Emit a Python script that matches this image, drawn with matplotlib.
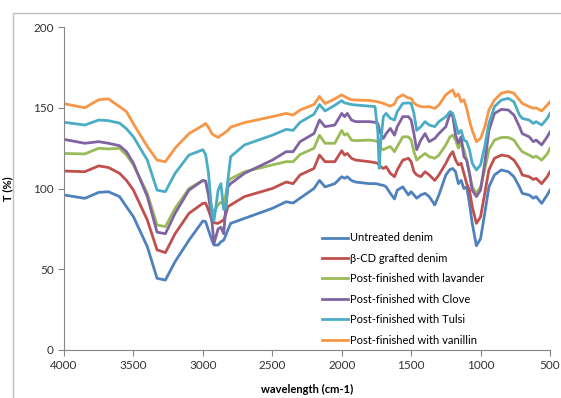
import matplotlib
matplotlib.use("Agg")
import matplotlib.pyplot as plt
from matplotlib.patches import Rectangle

plt.rcParams['font.family'] = ['Lato', 'DejaVu Sans']

# --- data (wavenumber, transmittance %) ---
wavenumber = [4000, 3850, 3750, 3680, 3600, 3550, 3500, 3400, 3330, 3270, 3200, 3100,
              3000, 2980, 2960, 2935, 2920, 2890, 2870, 2850, 2835, 2820, 2800, 2700,
              2500, 2400, 2350, 2300, 2200, 2160, 2120, 2050, 2000, 1980, 1960, 1930,
              1900, 1800, 1760, 1740, 1730, 1720, 1700, 1680, 1650, 1620, 1600, 1560,
              1520, 1500, 1480, 1460, 1430, 1400, 1370, 1330, 1300, 1250, 1220, 1200,
              1180, 1160, 1140, 1120, 1100, 1080, 1060, 1030, 1000, 970, 940, 900,
              850, 800, 760, 720, 700, 650, 620, 600, 560, 520, 500]

untreated = [96, 93.9, 97.6, 98, 95, 88.7, 82.5, 64, 44.4, 43.3, 54.7, 68,
             79.9, 79.5, 74.3, 68, 65, 65, 67, 68, 71, 74.3, 78.4, 81.5,
             87.7, 91.8, 91, 94, 100, 105, 101, 103, 107.3, 106.3, 107.3, 105,
             104, 103, 103, 102.8, 102.5, 102.2, 102, 101, 97, 93.5, 99, 101,
             96, 98, 96, 94, 96, 97, 95, 89.8, 96, 108.4, 111.8, 112.4,
             110.4, 103, 105, 100, 101, 90.8, 78.4, 64.5, 69, 84.6, 101, 108.4,
             111.5, 110.4, 107.3, 101, 97, 96, 94, 95, 90.8, 96, 99]

bcd_grafted = [110.8, 110.4, 114, 113, 109.4, 105, 99, 80.5, 62, 60.3, 72, 84.6,
               90.8, 91, 86.7, 80.5, 78.8, 78.4, 79.5, 80.5, 84, 88.7, 89.8, 95,
               100, 104, 103, 108.4, 112.4, 120.7, 116.6, 116.6, 123.4, 120.7, 121.7, 118.7,
               117.6, 116.6, 116, 115.6, 114.5, 113.5, 112.4, 113.5, 109.4, 107.3, 111.5, 117.6,
               118.7, 116.6, 110.4, 108.4, 107.3, 110.4, 108.4, 105, 108.4, 115.6, 120.7, 122.8,
               117.6, 114.6, 115.6, 109.4, 103, 99, 88.7, 78.4, 82.5, 97, 111.5, 118.7,
               120.7, 120, 117.6, 112.4, 108.4, 107.3, 105.6, 106.3, 103, 107.3, 110.4]

lavander = [121.7, 121.4, 124.9, 124.5, 124.9, 120.7, 114.6, 97, 77.4, 76.4, 87.7, 100,
            105, 104.5, 97, 88, 85, 90, 91.5, 90, 96, 104, 106, 110.4,
            114.6, 116.6, 116.6, 121, 124.9, 133, 128, 128, 136, 133, 134, 130,
            129.6, 130, 129.5, 129, 127, 125, 124, 124.9, 126, 122.8, 126, 132,
            132, 130, 122.8, 117.6, 119.7, 121.7, 119.7, 118.7, 120.7, 127, 132, 133,
            130, 125, 128, 124, 117.6, 109.4, 101, 97, 101, 111.5, 124, 130,
            131.6, 131.6, 130, 124.9, 122.8, 120.7, 119.2, 120, 117.6, 121.4, 124.9]

clove = [130.4, 128, 129, 128, 126.5, 122.8, 115.6, 95, 73, 72, 84.6, 99,
         105, 104.5, 96, 80, 66, 75, 76, 72, 88, 101, 103, 109.4,
         117.6, 122.8, 122.8, 129, 134, 142.4, 138.3, 139.3, 146.5, 144.5, 146.5, 142.4,
         141.4, 141.4, 141, 140.3, 137, 134, 131, 134, 137.2, 133, 138.3, 144.5,
         144.5, 142.4, 134, 124, 130, 134, 129, 131, 134, 138.3, 146.5, 144.5,
         133, 128, 132, 119.7, 117.6, 109.4, 99, 95, 99, 115.6, 136, 146.5,
         149, 148.6, 145.5, 138.3, 134, 132, 129, 130, 127, 132, 135]

tulsi = [141, 139.3, 142.4, 142, 140.5, 137, 132, 117.6, 99, 98, 109.4, 120.7,
         124, 121, 110, 85, 80, 99, 103, 87, 88, 105, 119.7, 127,
         133, 136.6, 136, 141, 146, 152, 148, 151.5, 154.4, 153, 152.7, 152,
         151.7, 151, 150.7, 135, 112.5, 128, 144.5, 146.5, 143.4, 142.4, 147.6, 152.7,
         153, 152.7, 146.5, 136, 138.3, 141.4, 139.3, 138.3, 141.4, 144.5, 147.6, 146.5,
         140.3, 134, 136, 130, 129, 124, 115.6, 111.5, 114.6, 126, 140.3, 150.7,
         154.8, 155.8, 153.7, 145.5, 143.4, 142.4, 140.3, 141.4, 139.3, 143.4, 146.5]

vanillin = [152.5, 150, 155, 155.5, 150.7, 147.6, 140, 126, 117.6, 116.6, 125, 134,
            139, 140.3, 138, 134, 133, 131.6, 133, 134, 135, 136, 138, 140.8,
            144.5, 146.5, 145.5, 148.6, 152, 157, 152.5, 155.5, 158, 157, 156, 155,
            154.8, 154.5, 154, 153.7, 153.5, 153.2, 152.7, 152, 151, 152.3, 156, 158,
            156, 155.8, 153, 151.7, 150.7, 150.5, 150.7, 149.6, 151.7, 158, 160, 161,
            157, 158.5, 153.7, 155, 149.6, 142, 136, 129, 131, 138, 148.6, 154.8,
            159, 160, 159, 154.8, 152.7, 150.7, 149.6, 150, 148, 151.7, 153.7]

series_labels = ['Untreated denim', 'β-CD grafted denim', 'Post-finished with lavander',
                 'Post-finished with Clove', 'Post-finished with Tulsi',
                 'Post-finished with vanillin']
series_values = [untreated, bcd_grafted, lavander, clove, tulsi, vanillin]
series_colors = ['#4F81BD', '#C0504D', '#9BBB59', '#8064A2', '#4BACC6', '#F79646']

x_ticks = [4000, 3500, 3000, 2500, 2000, 1500, 1000, 500]
y_ticks = [0, 50, 100, 150, 200]

fig = plt.figure(figsize=(5.61, 3.98), dpi=100)
ax = fig.add_axes([64 / 561, 1 - 350 / 398, (550 - 64) / 561, (350 - 27) / 398])

for vals, lab, col in zip(series_values, series_labels, series_colors):
    ax.plot(wavenumber, vals, color=col, lw=2.0, label=lab, solid_joinstyle='round')

ax.set_xlim(4000, 500)
ax.set_ylim(0, 200)
ax.set_xticks(x_ticks)
ax.set_yticks(y_ticks)
ax.tick_params(labelsize=8.5, colors='#868686', labelcolor='#333333', length=4, width=0.8)
for side in ['top', 'right']:
    ax.spines[side].set_visible(False)
for side in ['left', 'bottom']:
    ax.spines[side].set_color('#868686')
    ax.spines[side].set_linewidth(0.8)

ax.set_xlabel('wavelength (cm-1)', fontsize=8, fontweight='bold', labelpad=9)
ax.set_ylabel('T (%)', fontsize=8, fontweight='bold', labelpad=14)

ax.legend(loc='upper left', bbox_to_anchor=(318 / 561, 1 - 228 / 398),
          bbox_transform=fig.transFigure, frameon=False, fontsize=8,
          handlelength=2.3, handletextpad=0.2, labelspacing=0.85, borderaxespad=0)

# outer chart border (partly cut off at right and bottom)
fig.patches.append(Rectangle((13 / 561, -0.2), 1.2, 1.2 - 13 / 398,
                             transform=fig.transFigure, fill=False,
                             edgecolor='#c0c0c0', lw=1.0))

fig.savefig('out.png', dpi=100)
